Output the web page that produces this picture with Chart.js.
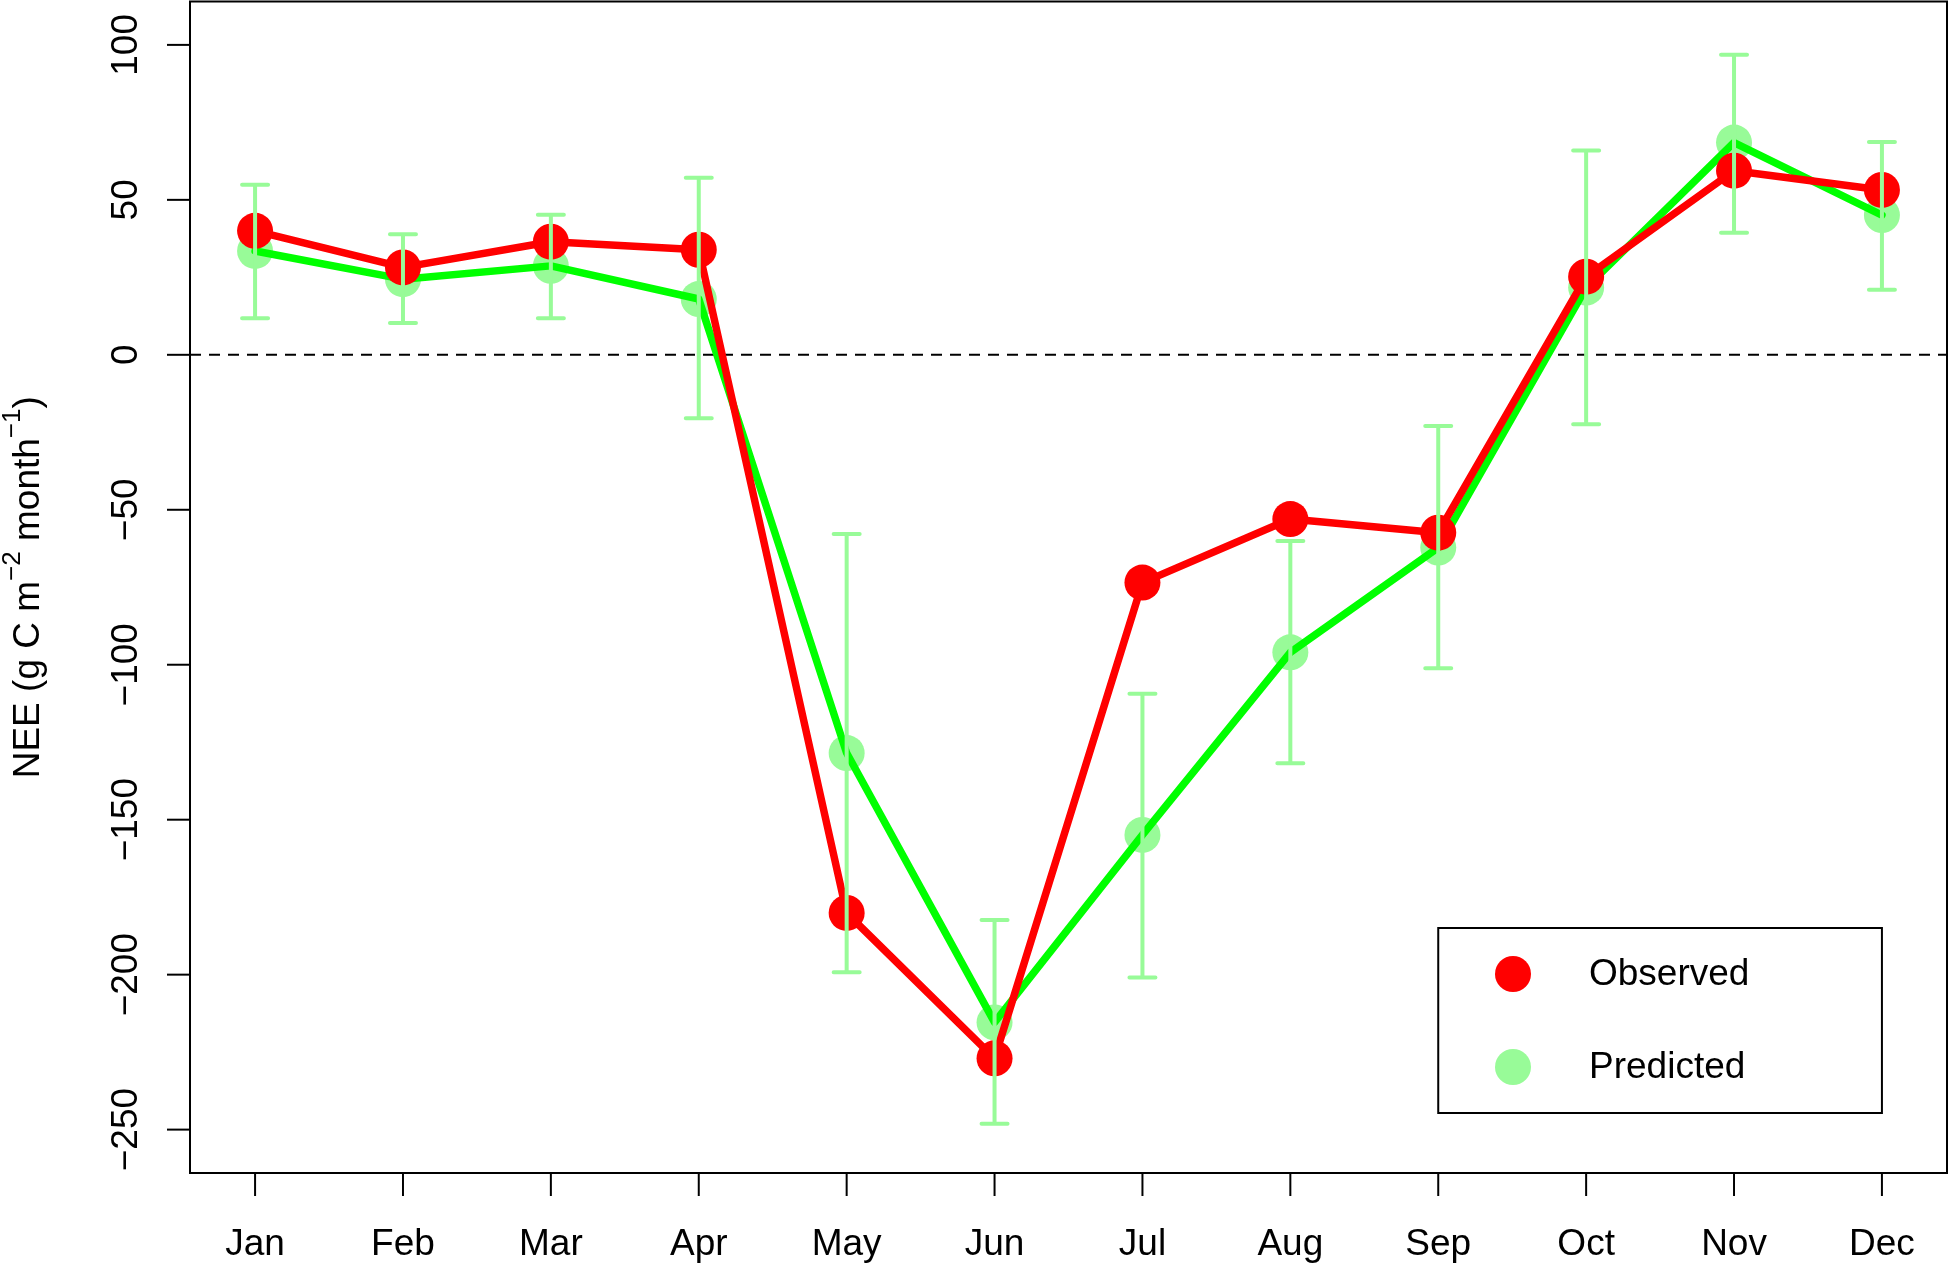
<!DOCTYPE html>
<html>
<head>
<meta charset="utf-8">
<script src="https://cdn.jsdelivr.net/npm/chart.js@4.4.1/dist/chart.umd.min.js"></script>
<style>
html,body{margin:0;padding:0;background:#fff;}
canvas{display:block;}
</style>
</head>
<body>
<canvas id="c" width="1950" height="1263"></canvas>
<script>
const months = ['Jan','Feb','Mar','Apr','May','Jun','Jul','Aug','Sep','Oct','Nov','Dec'];
const observed  = [40.0, 28.2, 36.5, 33.9, -180.1, -227.0, -73.5, -53.0, -57.4, 25.2, 59.4, 53.2];
const predicted = [33.5, 24.4, 28.7, 18.0, -128.5, -215.4, -154.9, -96.0, -62.2, 21.7, 68.5, 45.1];
const predLower = [11.8, 10.3, 11.8, -20.5, -199.2, -248.1, -200.9, -131.8, -101.1, -22.4, 39.4, 21.0];
const predUpper = [54.9, 38.9, 45.2, 57.1, -57.8, -182.4, -109.4, -60.1, -23.0, 65.9, 96.8, 68.7];
const yTicks = [-250, -200, -150, -100, -50, 0, 50, 100];
const seriesNames = ['Observed', 'Predicted'];

const RED = '#FF0000', GREEN = '#00FF00', PALE = '#98FB98';
const FONT = '"Liberation Sans", Arial, Helvetica, sans-serif';

const pts = arr => arr.map((v, i) => ({x: i + 1, y: v}));

function fmt(v){ return v < 0 ? '\u2212' + Math.abs(v) : String(v); }

const rPlugin = {
  id: 'rstyle',
  beforeDatasetsDraw(chart){
    const ctx = chart.ctx, a = chart.chartArea, y = chart.scales.y;
    ctx.save();
    ctx.strokeStyle = '#000'; ctx.lineWidth = 2; ctx.setLineDash([11, 8]);
    const y0 = y.getPixelForValue(0);
    ctx.beginPath(); ctx.moveTo(a.left, y0); ctx.lineTo(a.right, y0); ctx.stroke();
    ctx.restore();
  },
  afterDatasetsDraw(chart){
    const ctx = chart.ctx, a = chart.chartArea, xs = chart.scales.x, ys = chart.scales.y;
    ctx.save();
    // error bars
    ctx.strokeStyle = PALE; ctx.lineWidth = 4; ctx.lineCap = 'round';
    for (let i = 0; i < months.length; i++){
      const px = xs.getPixelForValue(i + 1);
      const yl = ys.getPixelForValue(predLower[i]), yu = ys.getPixelForValue(predUpper[i]);
      ctx.beginPath();
      ctx.moveTo(px, yl); ctx.lineTo(px, yu);
      ctx.moveTo(px - 13, yl); ctx.lineTo(px + 13, yl);
      ctx.moveTo(px - 13, yu); ctx.lineTo(px + 13, yu);
      ctx.stroke();
    }
    // box
    ctx.lineCap = 'butt';
    ctx.strokeStyle = '#000'; ctx.lineWidth = 2;
    ctx.strokeRect(a.left, a.top, a.right - a.left, a.bottom - a.top);
    // x ticks
    ctx.fillStyle = '#000';
    ctx.font = '37px ' + FONT;
    ctx.textAlign = 'center'; ctx.textBaseline = 'alphabetic';
    months.forEach((m, i) => {
      const px = xs.getPixelForValue(i + 1);
      ctx.beginPath(); ctx.moveTo(px, a.bottom); ctx.lineTo(px, a.bottom + 23); ctx.stroke();
      ctx.fillText(m, px, 1255);
    });
    // y ticks
    yTicks.forEach(v => {
      const py = ys.getPixelForValue(v);
      ctx.beginPath(); ctx.moveTo(a.left, py); ctx.lineTo(a.left - 23, py); ctx.stroke();
      ctx.save();
      ctx.translate(137, py); ctx.rotate(-Math.PI / 2);
      ctx.fillText(fmt(v), 0, 0);
      ctx.restore();
    });
    // y title
    const parts = [
      {t: 'NEE (g C m', s: false},
      {t: '\u22122', s: true},
      {t: ' month', s: false},
      {t: '\u22121', s: true},
      {t: ')', s: false}
    ];
    const mainF = '37px ' + FONT, supF = '26px ' + FONT;
    let total = 0;
    parts.forEach(p => { ctx.font = p.s ? supF : mainF; p.w = ctx.measureText(p.t).width; total += p.w; });
    ctx.save();
    ctx.translate(39, (a.top + a.bottom) / 2); ctx.rotate(-Math.PI / 2);
    ctx.textAlign = 'left';
    let cx = -total / 2;
    parts.forEach(p => {
      ctx.font = p.s ? supF : mainF;
      ctx.fillText(p.t, cx, p.s ? -19 : 0);
      cx += p.w;
    });
    ctx.restore();
    // legend
    const lx0 = xs.getPixelForValue(9), lx1 = xs.getPixelForValue(12);
    ctx.lineWidth = 2;
    ctx.strokeRect(lx0, 928, lx1 - lx0, 1113 - 928);
    const items = [{n: seriesNames[0], c: RED, y: 974}, {n: seriesNames[1], c: PALE, y: 1067}];
    ctx.font = '37px ' + FONT; ctx.textAlign = 'left'; ctx.textBaseline = 'middle';
    items.forEach(it => {
      ctx.fillStyle = it.c;
      ctx.beginPath(); ctx.arc(1513, it.y, 18, 0, Math.PI * 2); ctx.fill();
      ctx.fillStyle = '#000';
      ctx.fillText(it.n, 1589, it.y + 1);
    });
    ctx.restore();
  }
};

new Chart(document.getElementById('c'), {
  type: 'line',
  data: {
    datasets: [
      { label: seriesNames[0], data: pts(observed), borderColor: RED, backgroundColor: RED,
        borderWidth: 7.5, pointRadius: 18, pointBackgroundColor: RED, pointBorderWidth: 0,
        borderCapStyle: 'round', borderJoinStyle: 'round', order: 1, tension: 0 },
      { label: seriesNames[1] + ' line', data: pts(predicted), borderColor: GREEN,
        borderWidth: 7.5, pointRadius: 0, borderCapStyle: 'round', borderJoinStyle: 'round', order: 2, tension: 0 },
      { label: seriesNames[1], data: pts(predicted), showLine: false, pointRadius: 18,
        pointBackgroundColor: PALE, pointBorderWidth: 0, backgroundColor: PALE, order: 3 }
    ]
  },
  options: {
    responsive: false, animation: false, devicePixelRatio: 1,
    layout: { autoPadding: false, padding: { left: 190, right: 3, top: 1.5, bottom: 90 } },
    plugins: { legend: { display: false }, tooltip: { enabled: false } },
    scales: {
      x: { type: 'linear', min: 0.56, max: 12.44, display: false },
      y: { type: 'linear', min: -264, max: 114, display: false }
    },
    elements: { point: { hoverRadius: 18 } }
  },
  plugins: [rPlugin]
});
</script>
</body>
</html>
